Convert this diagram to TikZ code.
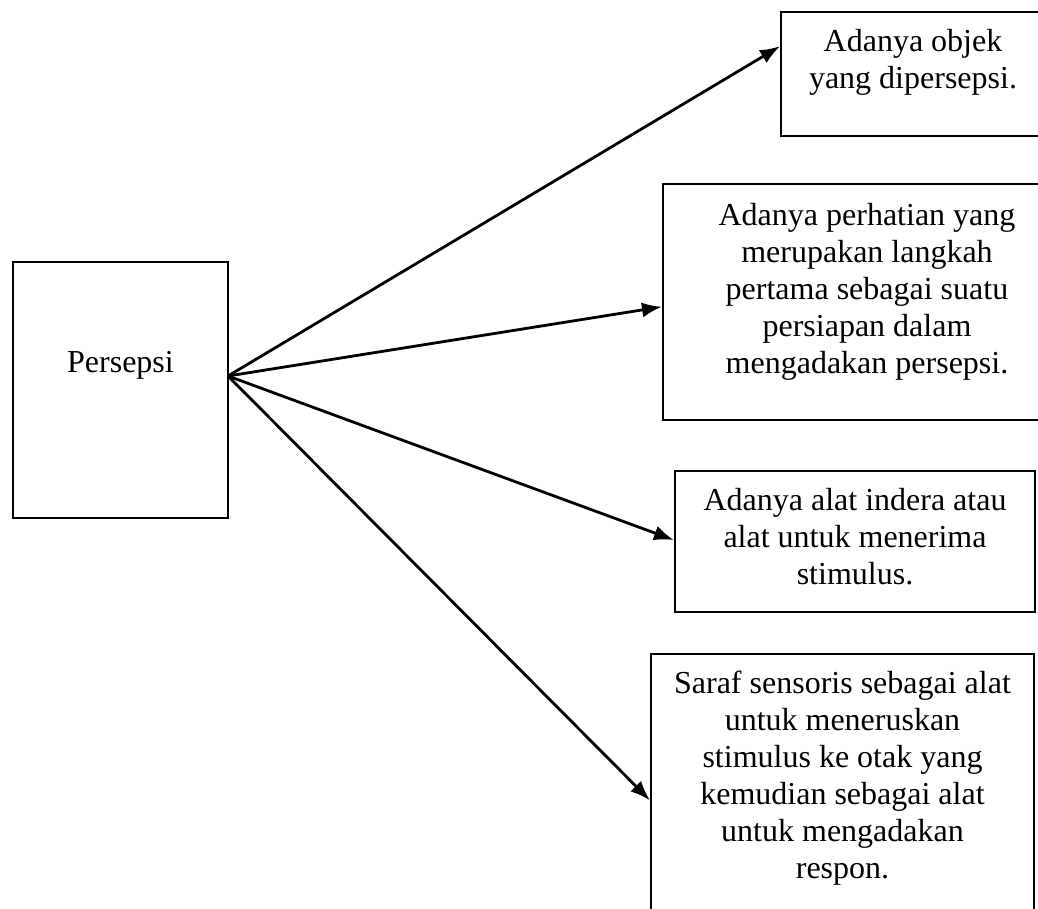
\documentclass[tikz,border=0pt]{standalone}
\usepackage{fontspec}
\setmainfont{Liberation Serif}
\usetikzlibrary{arrows.meta,calc}
\begin{document}
\begin{tikzpicture}[x=1pt,y=-1pt,
  boxstyle/.style={draw,line width=2pt,inner sep=0pt},
  textstyle/.style={align=center,inner sep=0pt,anchor=base,font=\fontsize{32}{37}\selectfont},
  arrowstyle/.style={line width=2.8pt,-{Latex[length=20pt,width=15pt]}}]
 \useasboundingbox (0,0) rectangle (1038,909);

 % boxes
 \node [boxstyle,minimum width=215pt,minimum height=256pt] (persepsi) at (120.5,390) {};
 \node [boxstyle,minimum width=264pt,minimum height=124pt] (objek) at (913,74) {};
 \node [boxstyle,minimum width=408pt,minimum height=236pt] (perhatian) at (867,302) {};
 \node [boxstyle,minimum width=360pt,minimum height=141pt] (indera) at (855,541.5) {};
 \node [boxstyle,minimum width=383pt,minimum height=266pt] (saraf) at (842.5,787) {};

 % texts (base = last line)
 \node [textstyle] (persepsitext) at (120.5,372) {Persepsi};
 \node [textstyle] (objektext) at (913,89) {Adanya objek\\yang dipersepsi.};
 \node [textstyle] (perhatiantext) at (867,373) {Adanya perhatian yang\\merupakan langkah\\pertama sebagai suatu\\persiapan dalam\\mengadakan persepsi.};
 \node [textstyle] (inderatext) at (855,584) {Adanya alat indera atau\\alat untuk menerima\\stimulus.};
 \node [textstyle] (saraftext) at (842.5,878) {Saraf sensoris sebagai alat\\untuk meneruskan\\stimulus ke otak yang\\kemudian sebagai alat\\untuk mengadakan\\respon.};

 % arrows
 \coordinate (hub) at (228,376);
 \draw [arrowstyle] (hub) -- ($(objek.north west)!0.28!(objek.south west)$);
 \draw [arrowstyle] (hub) -- ($(perhatian.north west)!0.52!(perhatian.south west)$);
 \draw [arrowstyle] (hub) -- ($(indera.north west)!0.49!(indera.south west)$);
 \draw [arrowstyle] (hub) -- ($(saraf.north west)!0.55!(saraf.south west)$);
\end{tikzpicture}
\end{document}
